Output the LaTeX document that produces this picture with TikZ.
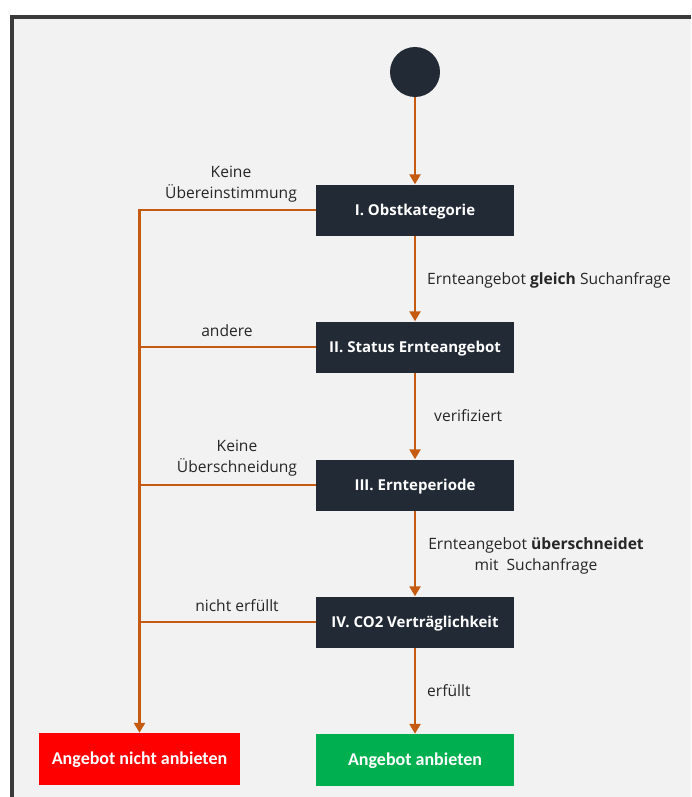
\documentclass[tikz,border=0pt]{standalone}
\usepackage{fontspec}
\setmainfont{Open Sans}
\newfontfamily\resultfont{Carlito}
\usetikzlibrary{arrows.meta,positioning}
\definecolor{floworange}{HTML}{C55A11}
\definecolor{boxdark}{HTML}{222A35}
\definecolor{canvas}{HTML}{F2F2F2}
\definecolor{framedark}{HTML}{3A3A3A}
\definecolor{rejectred}{HTML}{FF0000}
\definecolor{acceptgreen}{HTML}{00B050}
\tikzset{
  stepbox/.style={rectangle, fill=boxdark, text=white, font=\fontsize{15}{18}\selectfont\bfseries,
    minimum width=198pt, minimum height=51pt, inner sep=0pt, text height=10.7pt, text depth=0pt},
  resultbox/.style={stepbox, font=\resultfont\fontsize{18}{21}\selectfont\bfseries, minimum height=52pt,
    text height=11.6pt},
  flow/.style={draw=floworange, line width=2.4pt},
  flowarrow/.style={flow, -{Triangle[width=11pt,length=10pt]}},
  lbl/.style={font=\fontsize{15.6}{21.5}\selectfont, text=black!85, align=center, inner sep=0pt},
}
\begin{document}
\begin{tikzpicture}[x=1pt,y=-1pt]
  % page and canvas
  \useasboundingbox (0,0) rectangle (691,797);
  \fill[white] (0,0) rectangle (691,797);
  \fill[canvas] (10,15) rectangle (691,797);
  \fill[framedark] (10,15) rectangle (691,19);
  \fill[framedark] (10,15) rectangle (14,797);

  % nodes
  \node[circle, fill=boxdark, minimum size=50pt, inner sep=0pt] (start) at (415,72) {};
  \node[stepbox] (s1) at (415,210) {I. Obstkategorie};
  \node[stepbox] (s2) at (415,347) {II. Status Ernteangebot};
  \node[stepbox] (s3) at (415,485) {III. Ernteperiode};
  \node[stepbox] (s4) at (415,622) {IV. CO2 Verträglichkeit};
  \node[resultbox, fill=rejectred, minimum width=201pt] (no) at (139.5,759) {Angebot nicht anbieten};
  \node[resultbox, fill=acceptgreen, minimum width=198pt] (yes) at (415,760) {Angebot anbieten};

  % main path
  \draw[flowarrow] (start) -- (s1);
  \draw[flowarrow] (s1) -- (s2);
  \draw[flowarrow] (s2) -- (s3);
  \draw[flowarrow] (s3) -- (s4);
  \draw[flowarrow] (s4) -- (yes);

  % rejection branch
  \draw[flowarrow] (s1.west) -| (no.north);
  \draw[flow] (s2.west) -- (s2.west -| no.north);
  \draw[flow] (s3.west) -- (s3.west -| no.north);
  \draw[flow] (s4.west) -- (s4.west -| no.north);

  % labels
  \node[lbl] (l1) at (231,184) {Keine\\Übereinstimmung};
  \node[lbl] (l2) at (227,331) {andere};
  \node[lbl] (l3) at (237,458) {Keine\\Überschneidung};
  \node[lbl] (l4) at (237,606) {nicht erfüllt};
  \node[lbl, anchor=west] (r1) at (427,280) {Ernteangebot \textbf{gleich} Suchanfrage};
  \node[lbl, anchor=west] (r2) at (434,416) {verifiziert};
  \node[lbl] (r3) at (536,556) {Ernteangebot \textbf{überschneidet}\\mit\ \ Suchanfrage};
  \node[lbl, anchor=west] (r4) at (427,691) {erfüllt};
\end{tikzpicture}
\end{document}
